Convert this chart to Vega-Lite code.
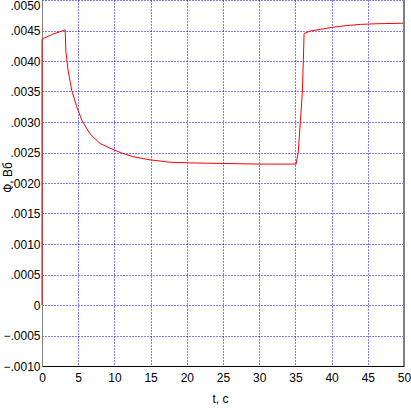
{
  "$schema": "https://vega.github.io/schema/vega-lite/v6.json",
  "autosize": "none",
  "width": 362,
  "height": 366,
  "padding": {"left": 42, "top": 0, "right": 7, "bottom": 42},
  "background": "white",
  "config": {
    "view": {"stroke": null},
    "axis": {
      "labelFont": "Liberation Sans Narrow, Liberation Sans, Arial",
      "titleFont": "Liberation Sans Narrow, Liberation Sans, Arial",
      "labelFontSize": 12,
      "titleFontSize": 12,
      "labelColor": "black",
      "titleColor": "black",
      "titleFontWeight": "normal",
      "labelOverlap": false,
      "ticks": false,
      "gridColor": "#0000ff",
      "gridDash": [1, 2],
      "gridOpacity": 1,
      "gridWidth": 1
    }
  },
  "data": {
    "values": [
      {"t": 0, "v": 0},
      {"t": 0, "v": 0.00436},
      {"t": 1.5, "v": 0.00444},
      {"t": 3.2, "v": 0.00451},
      {"t": 3.3, "v": 0.00415},
      {"t": 3.6, "v": 0.00385},
      {"t": 4.1, "v": 0.00352},
      {"t": 4.8, "v": 0.00325},
      {"t": 5.5, "v": 0.00303},
      {"t": 6.6, "v": 0.00281},
      {"t": 8.0, "v": 0.00265},
      {"t": 9.4, "v": 0.00257},
      {"t": 10.8, "v": 0.0025},
      {"t": 12.6, "v": 0.00243},
      {"t": 14.9, "v": 0.00238},
      {"t": 17.7, "v": 0.00234},
      {"t": 20.4, "v": 0.00233},
      {"t": 25, "v": 0.00232},
      {"t": 30, "v": 0.00231},
      {"t": 35.1, "v": 0.00231},
      {"t": 35.4, "v": 0.00251},
      {"t": 35.7, "v": 0.00303},
      {"t": 35.95, "v": 0.00347},
      {"t": 36.1, "v": 0.00402},
      {"t": 36.2, "v": 0.00445},
      {"t": 37, "v": 0.00449},
      {"t": 38.5, "v": 0.00452},
      {"t": 40, "v": 0.00455},
      {"t": 42, "v": 0.00458},
      {"t": 44, "v": 0.0046},
      {"t": 46, "v": 0.00461},
      {"t": 50, "v": 0.00462}
    ]
  },
  "layer": [
    {
      "mark": {"type": "line", "color": "#ff0000", "strokeWidth": 1, "interpolate": "linear"},
      "encoding": {
        "x": {
          "field": "t", "type": "quantitative",
          "scale": {"domain": [0, 50], "nice": false, "zero": false},
          "axis": {
            "title": "t, c",
            "values": [0, 5, 10, 15, 20, 25, 30, 35, 40, 45, 50],
            "domainColor": "black",
            "labelPadding": 6,
            "labelFlush": false,
            "labelOverlap": false,
            "titleX": 178,
            "titleY": 32,
            "titleBaseline": "middle"
          }
        },
        "y": {
          "field": "v", "type": "quantitative",
          "scale": {"domain": [-0.001, 0.005], "nice": false, "zero": false},
          "axis": {
            "title": "Ф, Вб",
            "values": [-0.001, -0.0005, 0, 0.0005, 0.001, 0.0015, 0.002, 0.0025, 0.003, 0.0035, 0.004, 0.0045, 0.005],
            "labelExpr": "abs(datum.value) < 1e-9 ? '0' : replace(format(datum.value, '.4f'), '0.', '.')",
            "domainColor": "#808080",
            "labelPadding": 2,
            "labelFlush": false,
            "labelBaseline": {"condition": {"test": "datum.value > 0.0049", "value": "top"}, "value": "middle"},
            "titleX": -35,
            "titleY": 177,
            "titleAngle": -90,
            "titleAlign": "center",
            "titleBaseline": "middle"
          }
        }
      }
    },
    {
      "mark": {"type": "rule", "color": "#808080", "strokeWidth": 1},
      "encoding": {
        "x": {
          "datum": 50, "type": "quantitative",
          "scale": {"domain": [0, 50], "nice": false, "zero": false},
          "axis": {
            "title": "t, c",
            "values": [0, 5, 10, 15, 20, 25, 30, 35, 40, 45, 50],
            "domainColor": "black",
            "labelPadding": 6,
            "labelFlush": false,
            "labelOverlap": false,
            "titleX": 178,
            "titleY": 32,
            "titleBaseline": "middle"
          }
        }
      }
    }
  ]
}
